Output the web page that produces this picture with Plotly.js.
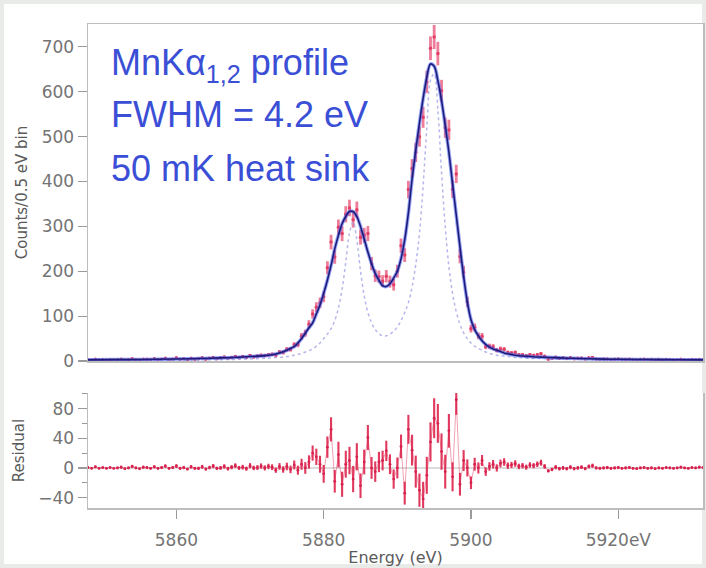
<!DOCTYPE html>
<html>
<head>
<meta charset="utf-8">
<script src="https://cdn.plot.ly/plotly-3.0.1.min.js"></script>
<style>
  html, body { margin: 0; padding: 0; background: #ffffff; }
  #frame { position: absolute; left: 0; top: 0; width: 706px; height: 568px; box-sizing: border-box; border: 4px solid #e8ebe8; }
  #chart { position: absolute; left: 0; top: 0; width: 706px; height: 568px; }
</style>
</head>
<body>
<div id="frame"></div>
<div id="chart"></div>
<script>
// ---- Measured spectrum: counts per 0.5 eV bin, bins start at 5848 eV ----
const binStart = 5848;
const binWidth = 0.5;

const countsLow = [3,2,4,2,3,2,3,2, 3,4,2,3,5,3,2,4, 4,3,5,3,4,6,3,4, 7,4,5,3,6,4, 5,7,4,6,8,5, 7,9,6,8,10,7, 10,8,12,9, 11,13, 12,14, 15,13, 20,19];
const countsPeak = [26,26,36,37,55,62,82,105,120,130, 143,208,265,232,298,284,327,341,315,337, 276,280,284,217,190,188,178,189,177,170, 200,257,236,382,429,465,500,543,622,697, 722,685,602,520,515,383,417,233,198,132, 72,75,56,55,32,33,32,24,27,26, 19];
const countsHigh = [18,19,14,14,11.5,14,12.5,14,16,10.5, 4,5.5,8.5,6,7,5.5,7.5,5,6,6.5, 4.5,7,8,4.5,4,4.2,4.7,3.5,4,4.3, 3.3,3.6,4.1,3,2.5,3.3,3.8,2.7,3.2,2.1, 3.1,2.5,3.5,2.9,2.4,2.8,3.8,2.7,2.2,3.1, 2.6,3.5,3];

// ---- Residuals (data - fit) per bin, and their error bars ----
const residLow = [0.5,-0.5,1.5,-0.5,0.5,-0.5,0.5,-0.5, 0,1,-1,0,2,0,-1,1, 0.5,-0.5,1.5,-0.5,0.5,2.5,-0.5,0.5, 2.5,-0.5,0.5,-1.5,1.5,-0.5, -0.5,1.5,-1.5,0.5,2.5,-0.5, 0,2,-1,1,3,0, 1,-1,3,0, 0.5,2.5, 0,2, 1,-3, 2,-2];
const residPeak = [2,-2,4,-3,5,0,8,20,15,5, -8,28,52,-18,18,-22,5,10,-15,15, -24,8,41,0,-5,8,10,23,5,-15, 0,29,-34,52,24,-5,-30,-42,-10,35, 67,60,22,-5,50,-12,92,-22,10,0, -20,5,0,10,-5,2,5,0,6,8, 3];
const residHigh = [4,6,2,3,1,4,3,5,7,2, -4,-2,1,-1,0,-1,1,-1,0,1, -1,2,3,0,-0.5,0,0.5,-0.5,0,0.5, -0.5,0,0.5,-0.5,-1,0,0.5,-0.5,0,-1, 0,-0.5,0.5,0,-0.5,0,1,0,-0.5,0.5, 0,1,0.5];

const errLow = [1.7,1.4,2,1.4,1.7,1.4,1.7,1.4, 1.7,2,1.4,1.7,2.2,1.7,1.4,2, 2,1.7,2.2,1.7,2,2.4,1.7,2, 2.6,2,2.2,1.7,2.4,2, 2.2,2.6,2,2.4,2.8,2.2, 2.6,3,2.4,2.8,3.2,2.6, 3.2,2.8,3.5,3, 3.3,3.6, 3.5,3.7, 3.9,3.6, 4.5,4.4];
const errPeak = [5.1,5.1,6,6.1,7.4,7.9,9,10.2,11,11.4, 12,14.4,16.3,15.2,17.3,16.9,18.1,18.5,17.7,18.4, 16.6,16.7,16.9,14.7,13.8,13.7,13.3,13.7,13.3,13, 14.1,16,15.4,19.5,20.7,21.6,22.4,23.3,24.9,26.4, 26.9,26.2,24.5,22.8,22.7,19.6,20.4,15.3,14.1,11.5, 8.5,8.7,7.5,7.4,5.7,5.7,5.7,4.9,5.2,5.1, 4.4];
const errHigh = [4.2,4.4,3.7,3.7,3.4,3.7,3.5,3.7,4,3.2, 2,2.3,2.9,2.4,2.6,2.3,2.7,2.2,2.4,2.5, 2.1,2.6,2.8,2.1,2,2,2.2,1.9,2,2.1, 1.8,1.9,2,1.7,1.6,1.8,1.9,1.6,1.8,1.4, 1.8,1.6,1.9,1.7,1.5,1.7,1.9,1.6,1.5,1.8, 1.6,1.9,1.7];

// ---- Fitted profile and intrinsic (dotted) components ----
const fitEnergy = [5848,5852,5856,5860,5863,5866,5869,5872,5873,5874,
  5875,5875.5,5876,5876.5,5877,5877.5,5878,5878.5,5879,5879.5,
  5880,5880.5,5881,5881.5,5882,5882.5,5883,5883.5,5884,5884.5,
  5885,5885.5,5886,5886.5,5887,5887.5,5888,5888.5,5889,5889.5,
  5890,5890.5,5891,5891.5,5892,5892.5,5893,5893.5,5894,5894.5,
  5895,5895.5,5896,5896.5,5897,5897.5,5898,5898.5,5899,5899.5,
  5900,5900.5,5901,5901.5,5902,5902.5,5903,5903.5,5904,5904.5,
  5905,5906,5907,5908,5909,5910,5912,5914,5916,5918,5920,5924,5928,5931.5];
const fitCounts = [2.5,3,3.5,4.5,5.5,7,9,12,14,18,
  24,28,32,40,50,62,74,85,105,125,
  151,180,213,250,280,306,322,333,333,322,
  300,272,243,217,195,180,168,166,172,185,
  200,228,270,330,405,470,530,585,632,662,
  657,625,580,525,465,395,325,255,188,132,
  92,70,56,45,37,31,27,24,21,18,
  16,13,11,10,9,8.5,7,6,5,4.2,3.8,3.2,2.8,2.5];
const intrinsicCounts = [1,1.2,1.5,2,2.5,3,4,6,7,8,
  10,11.5,13,15,17,20,23,27,33,40,
  50,60,72,90,118,160,220,285,310,270,
  200,145,108,85,70,61,56,56,60,66,
  76,90,108,130,165,215,285,390,520,625,
  640,560,420,300,210,150,110,82,63,50,
  40,33,28,24,20,17,15,13,12,11,
  10,8,7,6,5.5,5,4,3.5,3,2.5,2.2,1.8,1.5,1.2];

// ---- Tick labels ----
const xTickVals = [5860, 5880, 5900, 5920];
const xTickText = ['5860', '5880', '5900', '5920eV'];
const yTickVals = [0, 100, 200, 300, 400, 500, 600, 700];
const rTickVals = [-40, 0, 40, 80];

const counts = countsLow.concat(countsPeak, countsHigh);
const resid = residLow.concat(residPeak, residHigh);
const residErr = errLow.concat(errPeak, errHigh);

const tickFont = {family: 'DejaVu Sans', size: 17, color: '#747474'};
const titleFont = {family: 'DejaVu Sans', size: 15, color: '#5a5a5a'};
const lineCol = '#bdbdbd';
const textBlue = '#3b4fd6';
const textFont = {family: 'Liberation Sans, Arial, sans-serif', size: 36, color: textBlue};

const traces = [
  { x0: binStart, dx: binWidth, y: counts, type: 'scatter', mode: 'markers',
    xaxis: 'x', yaxis: 'y',
    marker: {size: 3.5, color: 'rgba(225,50,90,0.85)'},
    error_y: {type: 'sqrt', visible: true, color: 'rgba(230,70,110,0.7)', thickness: 2.8, width: 0} },
  { x: fitEnergy, y: intrinsicCounts, type: 'scatter', mode: 'lines',
    xaxis: 'x', yaxis: 'y', line: {color: 'rgba(165,165,230,0.8)', width: 1.5, dash: 'dot', shape: 'spline'} },
  { x: fitEnergy, y: fitCounts, type: 'scatter', mode: 'lines',
    xaxis: 'x', yaxis: 'y', line: {color: 'rgba(80,100,240,0.6)', width: 3.6, shape: 'spline'} },
  { x: fitEnergy, y: fitCounts, type: 'scatter', mode: 'lines',
    xaxis: 'x', yaxis: 'y', line: {color: '#1c1c78', width: 1.6, shape: 'spline'} },
  { x0: binStart, dx: binWidth, y: resid, type: 'scatter', mode: 'lines+markers',
    xaxis: 'x2', yaxis: 'y2',
    line: {color: 'rgba(220,40,80,0.55)', width: 0.8},
    marker: {size: 2.8, color: '#d8204e'},
    error_y: {type: 'data', array: residErr, visible: true, color: 'rgba(222,35,75,0.9)', thickness: 2.1, width: 0} }
];

const layout = {
  width: 706, height: 568,
  margin: {l: 88, r: 3, t: 24, b: 60},
  paper_bgcolor: 'rgba(0,0,0,0)',
  plot_bgcolor: '#ffffff',
  showlegend: false,
  xaxis: {
    domain: [0, 1], range: [5848, 5931.5], anchor: 'y',
    showticklabels: false, ticks: '', showgrid: false, zeroline: false,
    showline: true, mirror: true, linecolor: lineCol, linewidth: 1.5
  },
  yaxis: {
    domain: [0.3037, 1], range: [0, 751], anchor: 'x',
    tickvals: yTickVals, ticks: 'outside', ticklen: 9, tickwidth: 1.2, tickcolor: '#9a9a9a',
    tickfont: tickFont, showgrid: false, zeroline: false,
    showline: true, mirror: true, linecolor: lineCol, linewidth: 1.5,
    title: {text: 'Counts/0.5 eV bin', font: titleFont, standoff: 10}
  },
  xaxis2: {
    domain: [0, 1], range: [5848, 5931.5], anchor: 'y2',
    tickvals: xTickVals, ticktext: xTickText, ticks: 'outside', ticklen: 9, tickwidth: 1.2, tickcolor: '#9a9a9a',
    ticklabelstandoff: 7,
    tickfont: tickFont, showgrid: false, zeroline: false,
    showline: true, linecolor: lineCol, linewidth: 1.5,
    title: {text: 'Energy (eV)', font: {family: 'DejaVu Sans', size: 16, color: '#5a5a5a'}, standoff: 3}
  },
  yaxis2: {
    domain: [0, 0.2376], range: [-54, 101], anchor: 'x2',
    tickvals: rTickVals, ticks: 'outside', ticklen: 9, tickwidth: 1.2, tickcolor: '#9a9a9a',
    minor: {dtick: 20, tick0: 0, ticks: 'outside', ticklen: 5, tickcolor: '#9a9a9a', showgrid: false},
    tickfont: tickFont, showgrid: false,
    zeroline: true, zerolinecolor: '#dcdcdc', zerolinewidth: 1.2,
    showline: true, mirror: true, linecolor: lineCol, linewidth: 1.5,
    title: {text: 'Residual', font: titleFont, standoff: 10}
  },
  annotations: [
    {text: 'MnKα<sub>1,2</sub> profile', xref: 'paper', yref: 'paper', x: 0.034, y: 0.915,
     xanchor: 'left', yanchor: 'middle', showarrow: false, font: textFont},
    {text: 'FWHM = 4.2 eV', xref: 'paper', yref: 'paper', x: 0.034, y: 0.812,
     xanchor: 'left', yanchor: 'middle', showarrow: false, font: textFont},
    {text: '50 mK heat sink', xref: 'paper', yref: 'paper', x: 0.034, y: 0.702,
     xanchor: 'left', yanchor: 'middle', showarrow: false, font: textFont}
  ]
};

Plotly.newPlot('chart', traces, layout, {displayModeBar: false, staticPlot: true});
</script>
</body>
</html>
